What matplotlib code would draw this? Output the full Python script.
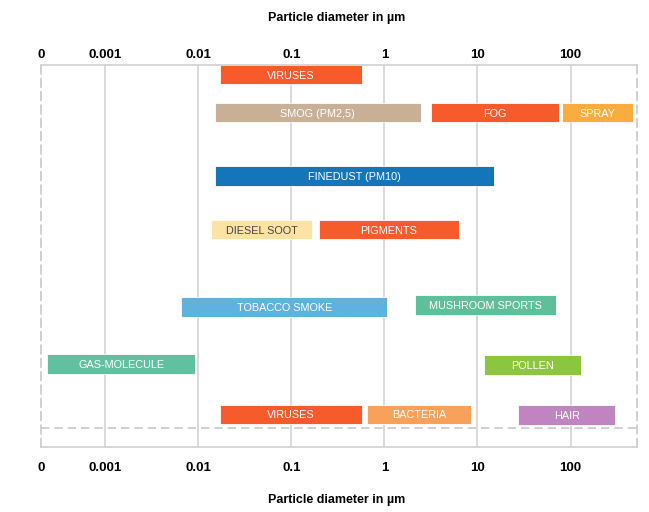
import matplotlib.pyplot as plt

# particle size ranges in micrometres
names = ["VIRUSES", "SMOG (PM2,5)", "FOG", "SPRAY", "FINEDUST (PM10)",
         "DIESEL SOOT", "PIGMENTS", "TOBACCO SMOKE", "MUSHROOM SPORTS",
         "GAS-MOLECULE", "POLLEN", "VIRUSES", "BACTERIA", "HAIR"]
low = [0.017, 0.015, 3.2, 80, 0.015, 0.0137, 0.2, 0.0066, 2.13,
       0.00024, 11.8, 0.017, 0.655, 27.4]
high = [0.57, 2.47, 75, 464, 15.1, 0.168, 6.3, 1.07, 69.7,
        0.0093, 131, 0.57, 8.45, 302]
rows = [0.95, 4.75, 4.75, 4.75, 11.1, 16.45, 16.45, 24.2, 24.0,
        29.9, 30.0, 34.95, 34.95, 35.0]
colors = ["#f75a2b", "#c8b097", "#f75a2b", "#fbac3f", "#1575bb",
          "#fde3a3", "#f75a2b", "#5fb2de", "#60bf9b",
          "#5fc1a0", "#8cc63f", "#f75a2b", "#f7a15b", "#c084c0"]
text_colors = ["white"] * 5 + ["#444444"] + ["white"] * 8

tick_vals = [2.05e-4, 0.001, 0.01, 0.1, 1, 10, 100]
tick_labels = ["0", "0.001", "0.01", "0.1", "1", "10", "100"]

fam = ["Liberation Sans Narrow", "Liberation Sans", "DejaVu Sans"]

fig = plt.figure(figsize=(6.49, 5.12), dpi=100)
ax = fig.add_axes([41 / 649, 65 / 512, 596 / 649, 382 / 512])
ax.set_xscale("log")
ax.set_xlim(2.05e-4, 517)
ax.set_ylim(38.2, 0)

for v in tick_vals[1:]:
    ax.axvline(v, color="#d3d3d3", lw=1.2, zorder=0)
ax.axhline(36.25, color="#c8c8c8", lw=1.2, ls=(0, (5, 3)), zorder=0)

for n, a, b, r, c, tc in zip(names, low, high, rows, colors, text_colors):
    ax.barh(r, b - a, left=a, height=1.95, color=c, edgecolor="white",
            lw=0.6, zorder=2)
    mid = (a * b) ** 0.5
    ax.text(mid, r, n, color=tc, ha="center", va="center_baseline",
            fontsize=7.8, family=fam, zorder=3)

ax.set_yticks([])
ax.set_xticks(tick_vals)
ax.set_xticklabels(tick_labels, family=fam, fontweight="bold", fontsize=9.5)
ax.minorticks_off()
ax.tick_params(axis="x", which="both", length=0, pad=10.5)

# top axis labels
sec = ax.secondary_xaxis("top")
sec.set_xticks(tick_vals)
sec.set_xticklabels(tick_labels, family=fam, fontweight="bold", fontsize=9.5)
sec.minorticks_off()
sec.tick_params(axis="x", which="both", length=0, pad=2.8)
sec.spines["top"].set_visible(False)

for s in ["top", "bottom"]:
    ax.spines[s].set_color("#cfcfcf")
    ax.spines[s].set_linewidth(1.2)
for s in ["left", "right"]:
    ax.spines[s].set_color("#c8c8c8")
    ax.spines[s].set_linewidth(1.2)
    ax.spines[s].set_linestyle((0, (5, 3)))

fig.text(0.5 * (41 + 637) / 649 - 0.003, 1 - 18 / 512, "Particle diameter in µm",
         ha="center", va="center", fontsize=9, fontweight="bold", family=fam)
fig.text(0.5 * (41 + 637) / 649 - 0.003, 1 - 500 / 512, "Particle diameter in µm",
         ha="center", va="center", fontsize=9, fontweight="bold", family=fam)

fig.savefig("out.png", dpi=100)
